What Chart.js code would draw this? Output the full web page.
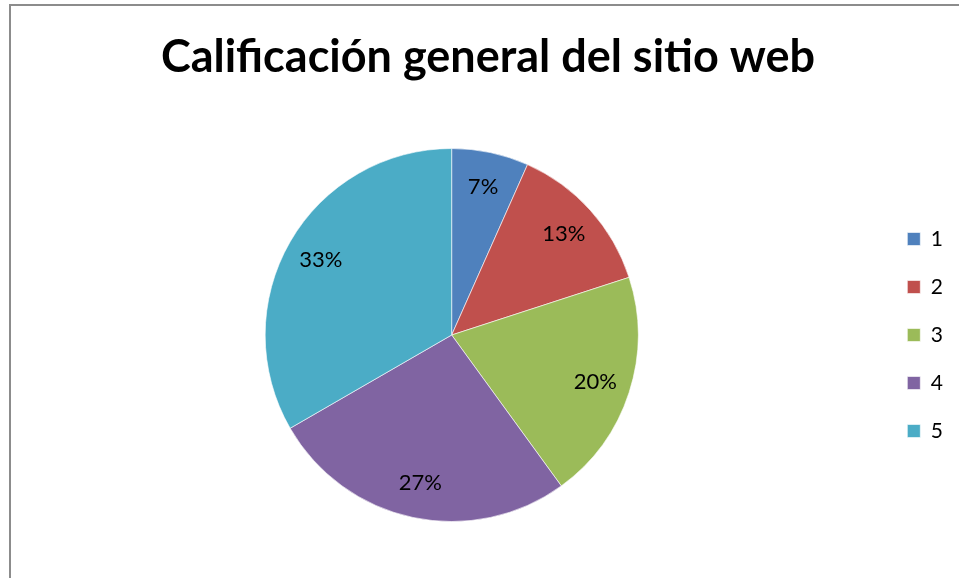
<!DOCTYPE html>
<html lang="es">
<head>
<meta charset="utf-8">
<title>Calificación general del sitio web</title>
<script src="https://cdn.jsdelivr.net/npm/chart.js@4.4.1/dist/chart.umd.min.js"></script>
<style>
  html, body { margin: 0; padding: 0; background: #fff; }
  #wrap { position: relative; width: 959px; height: 578px; overflow: hidden; }
  #frame { position: absolute; left: 9px; top: 4px; width: 2000px; height: 2000px;
           border-top: 2px solid #8c8c8c; border-left: 2px solid #8c8c8c; pointer-events: none; }
  canvas { position: absolute; left: 0; top: 0; }
</style>
</head>
<body>
<div id="wrap">
  <canvas id="chart" width="959" height="578"></canvas>
  <div id="frame"></div>
</div>
<script>
// Rating scale and number of answers per rating
const ratings = ['1', '2', '3', '4', '5'];
const responses = [1, 2, 3, 4, 5];
const sliceColors = ['#4F81BD', '#C0504D', '#9BBB59', '#8064A2', '#4BACC6'];
const chartTitle = 'Calificación general del sitio web';

const FONT = "Lato, 'Open Sans', 'Liberation Sans', sans-serif";

// Percent labels placed inside each slice, along its bisector
const percentLabels = {
  id: 'percentLabels',
  afterDatasetsDraw(chart) {
    const ctx = chart.ctx;
    const meta = chart.getDatasetMeta(0);
    const values = chart.data.datasets[0].data;
    const total = values.reduce((a, b) => a + b, 0);
    ctx.save();
    ctx.fillStyle = '#000';
    ctx.font = '22px ' + FONT;
    ctx.textAlign = 'center';
    ctx.textBaseline = 'middle';
    meta.data.forEach((arc, i) => {
      const p = arc.getProps(['x', 'y', 'startAngle', 'endAngle', 'outerRadius'], true);
      const mid = (p.startAngle + p.endAngle) / 2;
      const r = p.outerRadius * 0.81;
      const pct = Math.round(values[i] / total * 100) + '%';
      ctx.fillText(pct, p.x + Math.cos(mid) * r, p.y + Math.sin(mid) * r);
    });
    ctx.restore();
  }
};

new Chart(document.getElementById('chart'), {
  type: 'pie',
  data: {
    labels: ratings,
    datasets: [{
      data: responses,
      backgroundColor: sliceColors,
      borderColor: 'rgba(255,255,255,0.6)',
      borderWidth: 1
    }]
  },
  options: {
    responsive: false,
    animation: false,
    layout: { padding: { left: 23, right: 6, top: 0, bottom: 56 } },
    plugins: {
      tooltip: { enabled: false },
      title: {
        display: true,
        text: chartTitle,
        color: '#000',
        font: { family: FONT, size: 45, weight: 'bold' },
        padding: { top: 30, bottom: 64 }
      },
      legend: {
        position: 'right',
        // blank legend heading keeps the key centred beside the pie
        title: {
          display: true,
          text: ' ',
          font: { family: FONT, size: 20 },
          padding: { top: 0, bottom: 124 }
        },
        labels: {
          color: '#000',
          font: { family: FONT, size: 21 },
          boxWidth: 13,
          boxHeight: 13,
          padding: 27
        }
      }
    }
  },
  plugins: [percentLabels]
});
</script>
</body>
</html>
